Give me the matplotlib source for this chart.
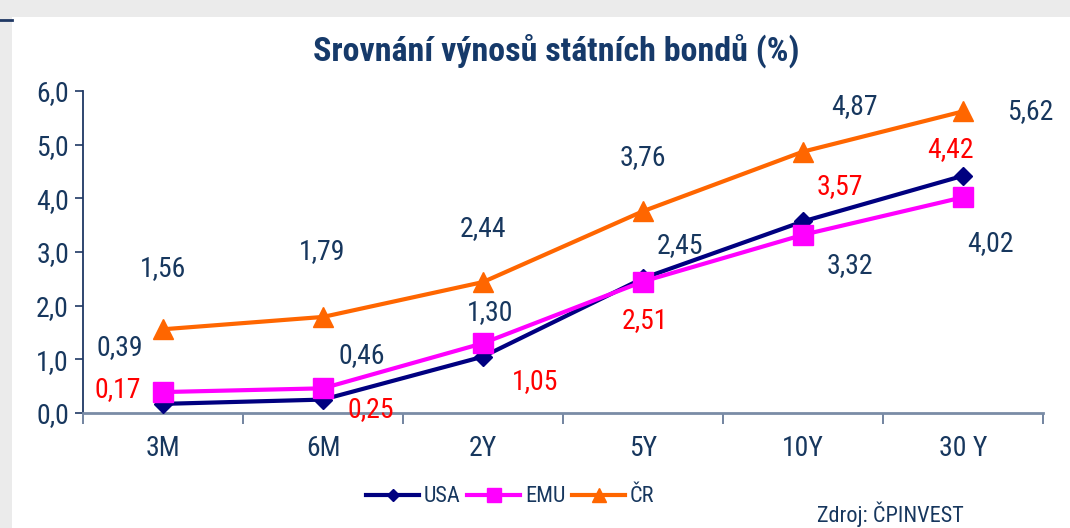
import matplotlib
matplotlib.use("Agg")
import matplotlib.pyplot as plt
from matplotlib.patches import Rectangle
from matplotlib.lines import Line2D
from matplotlib.ticker import FixedLocator, FuncFormatter

categories = ["3M", "6M", "2Y", "5Y", "10Y", "30 Y"]
usa = [0.17, 0.25, 1.05, 2.51, 3.57, 4.42]
emu = [0.39, 0.46, 1.30, 2.45, 3.32, 4.02]
cr = [1.56, 1.79, 2.44, 3.76, 4.87, 5.62]

# label offsets in pixels (dx, dy) relative to each point
usa_off = [(-45, 14), (48, -10), (52, -25), (2, -42), (37, 35), (-13, 26)]
emu_off = [(-43, 45), (39, 33), (7, 31), (37, 36), (47, -31), (27, -46)]
cr_off = [(0, 61), (-1, 65), (0, 54), (0, 54), (52, 45), (67, 0)]

FONT = ["Roboto Condensed", "Liberation Sans", "DejaVu Sans"]
plt.rcParams['font.family'] = FONT

navy_txt = "#17375e"
W, H = 1070, 528
fig = plt.figure(figsize=(W / 100, H / 100), dpi=100)
fig.patch.set_facecolor("white")

# gray frame strips
fig.add_artist(Rectangle((0, 1 - 17 / H), 1, 17 / H, transform=fig.transFigure,
                         facecolor="#ebebeb", edgecolor="none", zorder=0))
fig.add_artist(Rectangle((0, 0), 12 / W, 1, transform=fig.transFigure,
                         facecolor="#ebebeb", edgecolor="none", zorder=0))
fig.add_artist(Line2D([0, 12 / W], [1 - 20 / H, 1 - 20 / H], transform=fig.transFigure,
                      color="#1f3864", lw=2))

left, right = 83 / W, 1043 / W
bottom, top = (H - 413) / H, (H - 91) / H
ax = fig.add_axes([left, bottom, right - left, top - bottom])
ax.set_facecolor("none")

x = list(range(len(categories)))
ax.plot(x, usa, color="#000080", lw=3, marker="D", ms=9, mec="#000080", mfc="#000080",
        label="USA", zorder=3, clip_on=False)
ax.plot(x, emu, color="#ff00ff", lw=3, marker="s", ms=14, mec="#ff00ff", mfc="#ff00ff",
        label="EMU", zorder=4, clip_on=False)
ax.plot(x, cr, color="#ff6600", lw=3, marker="^", ms=15, mec="#ff6600", mfc="#ff6600",
        label="ČR", zorder=5, clip_on=False)

def fmt(v):
    return f"{v:.2f}".replace(".", ",")

for vals, offs, col in [(usa, usa_off, "#ff0000"), (emu, emu_off, navy_txt), (cr, cr_off, navy_txt)]:
    for i, (v, (dx, dy)) in enumerate(zip(vals, offs)):
        ax.annotate(fmt(v), (i, v), xytext=(dx, dy), textcoords="offset pixels",
                    ha="center", va="center", color=col, fontsize=20, zorder=6)

ax.set_xlim(-0.5, len(categories) - 0.5)
ax.set_ylim(0, 6)
ax.yaxis.set_major_locator(FixedLocator([0, 1, 2, 3, 4, 5, 6]))
ax.yaxis.set_major_formatter(FuncFormatter(lambda v, p: f"{v:.1f}".replace(".", ",")))
ax.set_xticks(x)
ax.set_xticklabels(categories)
ax.xaxis.set_minor_locator(FixedLocator([i - 0.5 for i in range(len(categories) + 1)]))
ax.tick_params(axis="x", which="major", length=0, pad=16, labelsize=20, labelcolor=navy_txt)
ax.tick_params(axis="x", which="minor", length=8, width=1.2, color="#5a7090", direction="out")
ax.tick_params(axis="y", length=6, width=1.2, color="#1f3864", labelsize=20,
               labelcolor=navy_txt, pad=4)

for s in ["top", "right"]:
    ax.spines[s].set_visible(False)
ax.spines["left"].set_color("#1f3864")
ax.spines["left"].set_linewidth(1.3)
ax.spines["bottom"].set_color("#7a8ca6")
ax.spines["bottom"].set_linewidth(2)

fig.text(556 / W, 1 - 51 / H, "Srovnání výnosů státních bondů (%)", ha="center", va="center",
         fontsize=24.5, fontweight="bold", color="#163a6a")

handles, labels = ax.get_legend_handles_labels()
leg = fig.legend(handles, labels, loc="center", bbox_to_anchor=(510 / W, 1 - 497 / H),
                 ncol=3, frameon=False, fontsize=16, handlelength=2.4, handletextpad=0.2,
                 columnspacing=0.3, markerscale=0.7)
for t in leg.get_texts():
    t.set_color(navy_txt)

fig.text(890 / W, 1 - 514 / H, "Zdroj: ČPINVEST", ha="center", va="center",
         fontsize=16, color=navy_txt)

fig.savefig("out.png", dpi=100)
